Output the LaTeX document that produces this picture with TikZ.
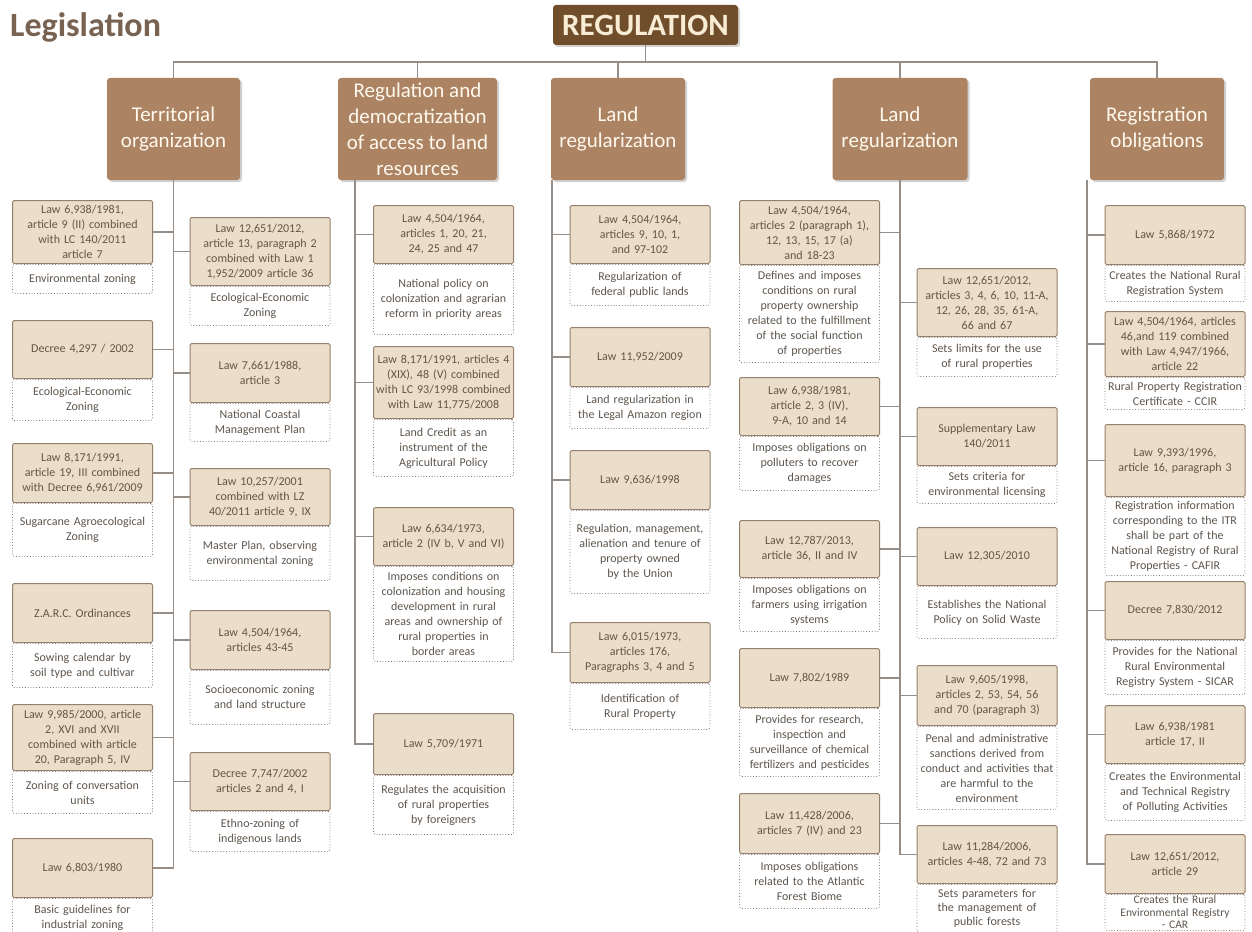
\documentclass[tikz,border=0pt]{standalone}
\usepackage{fontspec}
\setmainfont{Carlito}
\usepackage{xcolor}
\definecolor{titlebrown}{RGB}{120,98,82}
\definecolor{rootfill}{RGB}{112,78,44}
\definecolor{rootfont}{RGB}{248,236,212}
\definecolor{catfill}{RGB}{172,132,100}
\definecolor{catfont}{RGB}{255,248,236}
\definecolor{lawfill}{RGB}{234,222,203}
\definecolor{lawframe}{RGB}{150,128,105}
\definecolor{lawfont}{RGB}{105,84,62}
\definecolor{descframe}{RGB}{125,120,115}
\definecolor{descfont}{RGB}{95,86,78}
\definecolor{linegray}{RGB}{150,142,134}
\usetikzlibrary{positioning,shadows}
\tikzset{
  lg_title/.style={anchor=base west,text=titlebrown,inner sep=0pt,
    font=\fontsize{34}{37}\selectfont\bfseries},
  lg_root/.style={rectangle,rounded corners=3pt,
    fill=rootfill,text=rootfont,
    minimum width=185pt,minimum height=40pt,inner sep=0pt,
    font=\fontsize{31}{33}\selectfont\bfseries,
    drop shadow={shadow xshift=2pt,shadow yshift=-2pt,opacity=.35}},
  lg_cat/.style={rectangle,rounded corners=3pt,
    fill=catfill,text=catfont,
    minimum height=102pt,inner xsep=2pt,align=center,
    font=\fontsize{21}{26}\selectfont,
    drop shadow={shadow xshift=2pt,shadow yshift=-2pt,opacity=.35}},
  lg_law/.style={rectangle,rounded corners=1.5pt,
    draw=lawframe,line width=1pt,fill=lawfill,text=lawfont,
    text width=136pt,inner xsep=2pt,inner ysep=2pt,align=center,
    font=\fontsize{12}{15}\selectfont,anchor=north},
  lg_desc/.style={rectangle,rounded corners=1.5pt,
    draw=descframe,dotted,line width=.8pt,fill=white,text=descfont,
    text width=136pt,inner xsep=2pt,inner ysep=1pt,align=center,
    font=\fontsize{12}{15}\selectfont},
  conn/.style={draw=linegray,line width=1.6pt},
}

\begin{document}
\begin{tikzpicture}[x=1pt,y=-1pt,node distance=0pt]
  \path[fill=white,use as bounding box] (0,0) rectangle (1252,931);

  \node (title) [lg_title] at (10,37) {Legislation};
  \node (root) [lg_root] at (645.5,25) {REGULATION};

  \node (cat1) [lg_cat,minimum width=133pt] at (173.5,129) {Territorial\\organization};
  \node (cat2) [lg_cat,minimum width=159pt] at (417.5,129) {Regulation and\\democratization\\of access to land\\resources};
  \node (cat3) [lg_cat,minimum width=134pt] at (618,129) {Land\\regularization};
  \node (cat4) [lg_cat,minimum width=135pt] at (900,129) {Land\\regularization};
  \node (cat5) [lg_cat,minimum width=134pt] at (1157,129) {Registration\\obligations};

  \coordinate (bus) at (645.5,62);
  \coordinate (t1) at (cat1.south);
  \coordinate (t2) at ([xshift=17pt]cat2.south west);
  \coordinate (t3) at ([xshift=1pt]cat3.south west);
  \coordinate (t4) at (cat4.south);
  \coordinate (t5) at ([xshift=-3pt]cat5.south west);

  % territorial organization
  \node (l1) [lg_law,minimum height=63pt] at (82.5,200) {Law 6,938/1981,\\article 9 (II) combined\\with LC 140/2011\\article 7};
  \node (l1d) [lg_desc,minimum height=29pt,below=of l1] {Environmental zoning};
  \node (l2) [lg_law,minimum height=58pt] at (82.5,320) {Decree 4,297 / 2002};
  \node (l2d) [lg_desc,minimum height=41pt,below=of l2] {Ecological-Economic\\Zoning};
  \node (l3) [lg_law,minimum height=59pt] at (82.5,443) {Law 8,171/1991,\\article 19, III combined\\with Decree 6,961/2009};
  \node (l3d) [lg_desc,minimum height=53pt,below=of l3] {Sugarcane Agroecological\\Zoning};
  \node (l4) [lg_law,minimum height=59pt] at (82.5,583) {Z.A.R.C. Ordinances};
  \node (l4d) [lg_desc,minimum height=44pt,below=of l4] {Sowing calendar by\\soil type and cultivar};
  \node (l5) [lg_law,minimum height=66pt] at (82.5,704) {Law 9,985/2000, article\\2, XVI and XVII\\combined with article\\20, Paragraph 5, IV};
  \node (l5d) [lg_desc,minimum height=42pt,below=of l5] {Zoning of conversation\\units};
  \node (l6) [lg_law,minimum height=59pt] at (82.5,838) {Law 6,803/1980};
  \node (l6d) [lg_desc,minimum height=38pt,below=of l6] {Basic guidelines for\\industrial zoning};

  \node (r1) [lg_law,minimum height=68pt] at (260,217) {Law 12,651/2012,\\article 13, paragraph 2\\combined with Law 1\\1,952/2009 article 36};
  \node (r1d) [lg_desc,minimum height=39pt,below=of r1] {Ecological-Economic\\Zoning};
  \node (r2) [lg_law,minimum height=59pt] at (260,343) {Law 7,661/1988,\\article 3};
  \node (r2d) [lg_desc,minimum height=38pt,below=of r2] {National Coastal\\Management Plan};
  \node (r3) [lg_law,minimum height=57pt] at (260,468) {Law 10,257/2001\\combined with LZ\\40/2011 article 9, IX};
  \node (r3d) [lg_desc,minimum height=54pt,below=of r3] {Master Plan, observing\\environmental zoning};
  \node (r4) [lg_law,minimum height=59pt] at (260,610) {Law 4,504/1964,\\articles 43-45};
  \node (r4d) [lg_desc,minimum height=54pt,below=of r4] {Socioeconomic zoning\\and land structure};
  \node (r5) [lg_law,minimum height=58pt] at (260,752) {Decree 7,747/2002\\articles 2 and 4, I};
  \node (r5d) [lg_desc,minimum height=40pt,below=of r5] {Ethno-zoning of\\indigenous lands};

  % access to land resources
  \node (b1) [lg_law,minimum height=58pt] at (443.5,205) {Law 4,504/1964,\\articles 1, 20, 21,\\24, 25 and 47};
  \node (b1d) [lg_desc,minimum height=70pt,below=of b1] {National policy on\\colonization and agrarian\\reform in priority areas};
  \node (b2) [lg_law,minimum height=72pt] at (443.5,346) {Law 8,171/1991, articles 4\\(XIX), 48 (V) combined\\with LC 93/1998 combined\\with Law 11,775/2008};
  \node (b2d) [lg_desc,minimum height=57pt,below=of b2] {Land Credit as an\\instrument of the\\Agricultural Policy};
  \node (b3) [lg_law,minimum height=58pt] at (443.5,507) {Law 6,634/1973,\\article 2 (IV b, V and VI)};
  \node (b3d) [lg_desc,minimum height=95pt,below=of b3] {Imposes conditions on\\colonization and housing\\development in rural\\areas and ownership of\\rural properties in\\border areas};
  \node (b4) [lg_law,minimum height=61pt] at (443.5,713) {Law 5,709/1971};
  \node (b4d) [lg_desc,minimum height=59pt,below=of b4] {Regulates the acquisition\\of rural properties\\by foreigners};

  % land regularization
  \node (c1) [lg_law,minimum height=58pt] at (640,205) {Law 4,504/1964,\\articles 9, 10, 1,\\and 97-102};
  \node (c1d) [lg_desc,minimum height=41pt,below=of c1] {Regularization of\\federal public lands};
  \node (c2) [lg_law,minimum height=59pt] at (640,327) {Law 11,952/2009};
  \node (c2d) [lg_desc,minimum height=41pt,below=of c2] {Land regularization in\\the Legal Amazon region};
  \node (c3) [lg_law,minimum height=59pt] at (640,450) {Law 9,636/1998};
  \node (c3d) [lg_desc,minimum height=83pt,below=of c3] {Regulation, management,\\alienation and tenure of\\property owned\\by the Union};
  \node (c4) [lg_law,minimum height=60pt] at (640,622) {Law 6,015/1973,\\articles 176,\\Paragraphs 3, 4 and 5};
  \node (c4d) [lg_desc,minimum height=46pt,below=of c4] {Identification of\\Rural Property};

  % land regularization, second column
  \node (d1) [lg_law,minimum height=64pt] at (809.5,200) {Law 4,504/1964,\\articles 2 (paragraph 1),\\12, 13, 15, 17 (a)\\and 18-23};
  \node (d1d) [lg_desc,minimum height=97pt,below=of d1] {Defines and imposes\\conditions on rural\\property ownership\\related to the fulfillment\\of the social function\\of properties};
  \node (d2) [lg_law,minimum height=58pt] at (809.5,377) {Law 6,938/1981,\\article 2, 3 (IV),\\9-A, 10 and 14};
  \node (d2d) [lg_desc,minimum height=54pt,below=of d2] {Imposes obligations on\\polluters to recover\\damages};
  \node (d3) [lg_law,minimum height=57pt] at (809.5,520) {Law 12,787/2013,\\article 36, II and IV};
  \node (d3d) [lg_desc,minimum height=53pt,below=of d3] {Imposes obligations on\\farmers using irrigation\\systems};
  \node (d4) [lg_law,minimum height=59pt] at (809.5,648) {Law 7,802/1989};
  \node (d4d) [lg_desc,minimum height=68pt,below=of d4] {Provides for research,\\inspection and\\surveillance of chemical\\fertilizers and pesticides};
  \node (d5) [lg_law,minimum height=60pt] at (809.5,793) {Law 11,428/2006,\\articles 7 (IV) and 23};
  \node (d5d) [lg_desc,minimum height=54pt,below=of d5] {Imposes obligations\\related to the Atlantic\\Forest Biome};

  \node (e1) [lg_law,minimum height=68pt] at (987,268) {Law 12,651/2012,\\articles 3, 4, 6, 10, 11-A,\\12, 26, 28, 35, 61-A,\\66 and 67};
  \node (e1d) [lg_desc,minimum height=39pt,below=of e1] {Sets limits for the use\\of rural properties};
  \node (e2) [lg_law,minimum height=58pt] at (987,407) {Supplementary Law\\140/2011};
  \node (e2d) [lg_desc,minimum height=37pt,below=of e2] {Sets criteria for\\environmental licensing};
  \node (e3) [lg_law,minimum height=58pt] at (987,527) {Law 12,305/2010};
  \node (e3d) [lg_desc,minimum height=52pt,below=of e3] {Establishes the National\\Policy on Solid Waste};
  \node (e4) [lg_law,minimum height=60pt] at (987,665) {Law 9,605/1998,\\articles 2, 53, 54, 56\\and 70 (paragraph 3)};
  \node (e4d) [lg_desc,minimum height=83pt,below=of e4] {Penal and administrative\\sanctions derived from\\conduct and activities that\\are harmful to the\\environment};
  \node (e5) [lg_law,minimum height=58pt] at (987,825) {Law 11,284/2006,\\articles 4-48, 72 and 73};
  \node (e5d) [lg_desc,minimum height=48pt,below=of e5,
    font=\fontsize{12}{14}\selectfont] {Sets parameters for\\the management of\\public forests};

  % registration obligations
  \node (f1) [lg_law,minimum height=59pt] at (1175,205) {Law 5,868/1972};
  \node (f1d) [lg_desc,minimum height=36pt,below=of f1] {Creates the National Rural\\Registration System};
  \node (f2) [lg_law,minimum height=65pt] at (1175,311) {Law 4,504/1964, articles\\46,and 119 combined\\with Law 4,947/1966,\\article 22};
  \node (f2d) [lg_desc,minimum height=32pt,below=of f2] {Rural Property Registration\\Certificate - CCIR};
  \node (f3) [lg_law,minimum height=72pt] at (1175,424) {Law 9,393/1996,\\article 16, paragraph 3};
  \node (f3d) [lg_desc,minimum height=78pt,below=of f3] {Registration information\\corresponding to the ITR\\shall be part of the\\National Registry of Rural\\Properties - CAFIR};
  \node (f4) [lg_law,minimum height=58pt] at (1175,581) {Decree 7,830/2012};
  \node (f4d) [lg_desc,minimum height=54pt,below=of f4] {Provides for the National\\Rural Environmental\\Registry System - SICAR};
  \node (f5) [lg_law,minimum height=58pt] at (1175,705) {Law 6,938/1981\\article 17, II};
  \node (f5d) [lg_desc,minimum height=56pt,below=of f5] {Creates the Environmental\\and Technical Registry\\of Polluting Activities};
  \node (f6) [lg_law,minimum height=59pt] at (1175,834) {Law 12,651/2012,\\article 29};
  \node (f6d) [lg_desc,minimum height=36pt,below=of f6,
    font=\fontsize{11.5}{12.5}\selectfont] {Creates the Rural\\Environmental Registry\\- CAR};

  % tree lines
  \draw[conn] (root.south) -- (bus);
  \draw[conn] (cat1.north) |- (bus) -| (cat5.north);
  \foreach \c in {cat2,cat3,cat4}
    \draw[conn] (\c.north) -- (\c.north |- bus);

  \draw[conn] (t1) |- (l6.east);
  \foreach \n in {l1,l2,l3,l4,l5}
    \draw[conn] (\n.east) -- (\n.east -| t1);
  \foreach \n in {r1,r2,r3,r4,r5}
    \draw[conn] (\n.west) -- (\n.west -| t1);

  \draw[conn] (t2) |- (b4.west);
  \foreach \n in {b1,b2,b3}
    \draw[conn] (\n.west) -- (\n.west -| t2);

  \draw[conn] (t3) |- (c4.west);
  \foreach \n in {c1,c2,c3}
    \draw[conn] (\n.west) -- (\n.west -| t3);

  \draw[conn] (t4) |- (e5.west);
  \foreach \n in {d1,d2,d3,d4,d5}
    \draw[conn] (\n.east) -- (\n.east -| t4);
  \foreach \n in {e1,e2,e3,e4}
    \draw[conn] (\n.west) -- (\n.west -| t4);

  \draw[conn] (t5) |- (f6.west);
  \foreach \n in {f1,f2,f3,f4,f5}
    \draw[conn] (\n.west) -- (\n.west -| t5);
\end{tikzpicture}
\end{document}
